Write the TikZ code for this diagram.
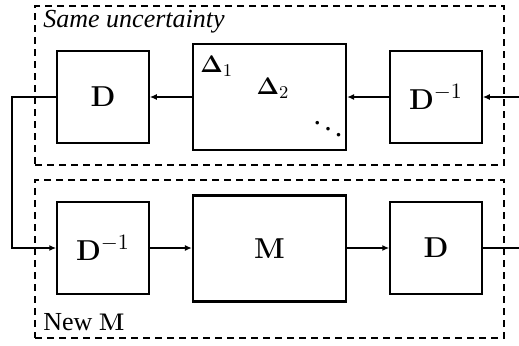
\documentclass[tikz,border=0pt]{standalone}
\usepackage{amsmath}
\usepackage[no-math]{fontspec}
\setmainfont{Liberation Serif}
\usetikzlibrary{arrows.meta}
\begin{document}
\begin{tikzpicture}[x=0.5pt,y=-0.5pt,
  font=\fontsize{13}{15.5}\selectfont,
  mth/.style={font=\fontsize{15}{18}\selectfont},
  blk/.style={draw,mth,line width=0.75pt,minimum width=46pt,minimum height=46pt,inner sep=0pt},
  bigblk/.style={draw,mth,line width=1.1pt,minimum width=76.5pt,minimum height=53pt,inner sep=0pt},
  grp/.style={draw,dashed,dash pattern=on 3.6pt off 2.4pt,line width=0.65pt,inner sep=0pt},
  conn/.style={line width=0.7pt,-{Latex[length=3.5pt,width=3pt]}},
  connb/.style={line width=0.9pt,-{Latex[length=3.5pt,width=3pt]}},
  lbl/.style={inner sep=0pt,anchor=base west}]
\useasboundingbox (0,0) rectangle (519,345);
% groups
\node[grp,minimum width=234.5pt,minimum height=79.5pt] (top) at (269.5,85.5) {};
\node[grp,minimum width=234.5pt,minimum height=79pt] (bot) at (269.5,259) {};
\node[lbl] (tl) at (43,27) {\itshape Same uncertainty};
\node[lbl] (bl) at (43,330) {New $\mathbf{M}$};
% top row
\node[blk] (d1) at (103,97) {$\mathbf{D}$};
\node[bigblk] (del) at (269.5,97) {};
\node[blk] (di1) at (436,97) {$\mathbf{D}^{-1}$};
\node[inner sep=0pt,anchor=north west] (del1) at (200,56) {$\boldsymbol{\Delta}_1$};
\node[inner sep=0pt] (del2) at (273,88) {$\boldsymbol{\Delta}_2$};
\node[mth,inner sep=0pt] (dd) at (328,123) {$\ddots$};
% bottom row
\node[blk] (di2) at (103,248) {$\mathbf{D}^{-1}$};
\node[bigblk] (m) at (269.5,248.5) {$\mathbf{M}$};
\node[blk] (d2) at (436,248) {$\mathbf{D}$};
% coordinates
\coordinate (in) at (519,97);
\coordinate (out) at (519,248);
\coordinate (c1) at (12,97);
\coordinate (c2) at (12,248);
% connectors
\draw[conn] (in) -- (di1.east);
\draw[conn] (di1.west) -- (del.east);
\draw[conn] (del.west) -- (d1.east);
\draw[connb] (d1.west) -- (c1) -- (c2) -- (di2.west);
\draw[connb] (di2.east) -- (m.west|-di2.east);
\draw[connb] (m.east|-d2.west) -- (d2.west);
\draw[line width=0.9pt] (d2.east) -- (out);
\end{tikzpicture}
\end{document}
